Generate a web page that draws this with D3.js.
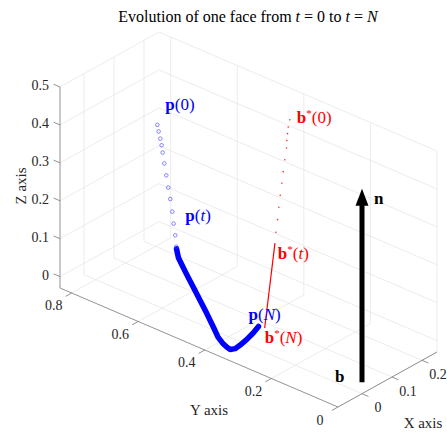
<!doctype html>
<html lang="en">
<head>
<meta charset="utf-8">
<title>face evolution</title>
<style>
  body { margin: 0; background: #fff; }
  svg { display: block; font-family: "Liberation Serif", "DejaVu Serif", serif; }
  .grid line { stroke: #e4e4e4; stroke-width: 0.7; }
  .axis line { stroke: #777; stroke-width: 0.8; }
  .tick text { fill: #262626; font-size: 14px; }
  .axis-label { fill: #262626; font-size: 15px; }
  .title { fill: #000; font-size: 16px; }
  .lab { font-size: 17px; }
</style>
</head>
<body>
<div class="chart"></div>
<script src="https://d3js.org/d3.v7.min.js"></script>
<script>
'use strict';

// axis limits and ticks
const xLim = [-0.08, 0.25];
const yLim = [0, 0.835];
const zLim = [-0.03, 0.5];
const xTicks = [0, 0.1, 0.2];
const yTicks = [0, 0.2, 0.4, 0.6, 0.8];
const zTicks = [0, 0.1, 0.2, 0.3, 0.4, 0.5];

// p(t), first steps (open circles), [x, y, z]
const pSteps = [
  [0.19, 0.786, 0.300], [0.19, 0.782, 0.284], [0.19, 0.777, 0.267],
  [0.19, 0.773, 0.251], [0.19, 0.770, 0.233], [0.19, 0.765, 0.206],
  [0.19, 0.759, 0.177], [0.19, 0.753, 0.147], [0.19, 0.747, 0.119],
  [0.19, 0.741, 0.088], [0.19, 0.737, 0.058], [0.19, 0.732, 0.029],
  [0.19, 0.729, 0.000]
];
// p(t), later steps (dense, reads as a thick line)
const pTail = [
  [0.183, 0.722, 0], [0.156, 0.692, 0], [0.112, 0.628, 0], [0.077, 0.576, 0],
  [0.042, 0.524, 0], [0.007, 0.472, 0], [-0.029, 0.420, 0], [-0.056, 0.382, 0],
  [-0.071, 0.353, 0], [-0.077, 0.337, 0], [-0.080, 0.324, 0], [-0.070, 0.318, 0],
  [-0.052, 0.320, 0], [-0.023, 0.326, 0], [0.009, 0.335, 0], [0.039, 0.346, 0]
];
// b*(t) dots
const bStarSteps = [
  [0.25, 0.442, 0.416], [0.25, 0.447, 0.395], [0.25, 0.449, 0.377],
  [0.25, 0.451, 0.358], [0.25, 0.452, 0.338], [0.25, 0.457, 0.305],
  [0.25, 0.462, 0.272], [0.25, 0.466, 0.240], [0.25, 0.471, 0.206],
  [0.25, 0.475, 0.173], [0.25, 0.479, 0.139], [0.25, 0.484, 0.104],
  [0.25, 0.487, 0.072]
];
const bStarEnd = [0.043, 0.331, 0];
const bPoint = [0, 0, 0];
const nVec = [0, 0, 0.51];

const width = 447, height = 432;

// 3-D box -> screen (orthographic view)
const origin = [338, 407];          // corner x=min, y=min, z=min
const ux = [99, -55], uy = [-278, -119], uz = [0, -201];

const x = d3.scaleLinear().domain(xLim).range([0, 1]);
const y = d3.scaleLinear().domain(yLim).range([0, 1]);
const z = d3.scaleLinear().domain(zLim).range([0, 1]);

function proj(p) {
  const a = x(p[0]), b = y(p[1]), c = z(p[2]);
  return [origin[0] + a * ux[0] + b * uy[0] + c * uz[0],
          origin[1] + a * ux[1] + b * uy[1] + c * uz[1]];
}

function unit(v) {
  const l = Math.hypot(v[0], v[1]);
  return [v[0] / l, v[1] / l];
}

const svg = d3.select('.chart').append('svg')
  .attr('width', width)
  .attr('height', height);

function seg(g, p1, p2) {
  const a = proj(p1), b = proj(p2);
  g.append('line')
    .attr('x1', a[0]).attr('y1', a[1])
    .attr('x2', b[0]).attr('y2', b[1]);
}

// grid on back walls and floor
const grid = svg.append('g').attr('class', 'grid');
xTicks.forEach(t => {
  seg(grid, [t, yLim[1], zLim[0]], [t, yLim[1], zLim[1]]);
  seg(grid, [t, yLim[0], zLim[0]], [t, yLim[1], zLim[0]]);
});
yTicks.forEach(t => {
  seg(grid, [xLim[1], t, zLim[0]], [xLim[1], t, zLim[1]]);
  seg(grid, [xLim[0], t, zLim[0]], [xLim[1], t, zLim[0]]);
});
zTicks.forEach(t => {
  seg(grid, [xLim[0], yLim[1], t], [xLim[1], yLim[1], t]);
  seg(grid, [xLim[1], yLim[0], t], [xLim[1], yLim[1], t]);
});

// axes
const axis = svg.append('g').attr('class', 'axis');
seg(axis, [xLim[0], yLim[1], zLim[0]], [xLim[0], yLim[1], zLim[1]]);
seg(axis, [xLim[0], yLim[0], zLim[0]], [xLim[0], yLim[1], zLim[0]]);
seg(axis, [xLim[0], yLim[0], zLim[0]], [xLim[1], yLim[0], zLim[0]]);

const tickLen = 7;
function ticks(values, toPoint, dir, labelOff, anchor, fmt) {
  const d = unit(dir);
  const g = axis.selectAll(null).data(values).enter().append('g').attr('class', 'tick');
  g.append('line')
    .attr('x1', v => proj(toPoint(v))[0])
    .attr('y1', v => proj(toPoint(v))[1])
    .attr('x2', v => proj(toPoint(v))[0] + d[0] * tickLen)
    .attr('y2', v => proj(toPoint(v))[1] + d[1] * tickLen);
  g.append('text')
    .attr('x', v => proj(toPoint(v))[0] + labelOff[0])
    .attr('y', v => proj(toPoint(v))[1] + labelOff[1])
    .attr('text-anchor', anchor)
    .attr('dominant-baseline', 'central')
    .text(fmt);
}
const fmt = d3.format('~g');
ticks(zTicks, v => [xLim[0], yLim[1], v], uy, [-11, -1.5], 'end', fmt);
ticks(yTicks, v => [xLim[0], v, zLim[0]], [-ux[0], -ux[1]], [-18, 13], 'middle', fmt);
ticks(xTicks, v => [v, yLim[0], zLim[0]], [-uy[0], -uy[1]], [16, 14], 'middle', fmt);

svg.append('text').attr('class', 'axis-label')
  .attr('transform', 'translate(21,186) rotate(-90)')
  .attr('text-anchor', 'middle').attr('dominant-baseline', 'central')
  .text('Z axis');
svg.append('text').attr('class', 'axis-label')
  .attr('x', 209).attr('y', 415).attr('text-anchor', 'middle')
  .text('Y axis');
svg.append('text').attr('class', 'axis-label')
  .attr('x', 423).attr('y', 428).attr('text-anchor', 'middle')
  .text('X axis');

// title
const title = svg.append('text').attr('class', 'title')
  .attr('x', 248).attr('y', 22).attr('text-anchor', 'middle');
title.append('tspan').text('Evolution of one face from ');
title.append('tspan').attr('font-style', 'italic').text('t');
title.append('tspan').text(' = 0 to ');
title.append('tspan').attr('font-style', 'italic').text('t');
title.append('tspan').text(' = ');
title.append('tspan').attr('font-style', 'italic').text('N');

const line = d3.line().x(d => proj(d)[0]).y(d => proj(d)[1]);

// p(t)
svg.append('path')
  .datum(pTail)
  .attr('d', line)
  .attr('fill', 'none')
  .attr('stroke', '#0000ff')
  .attr('stroke-width', 5.5)
  .attr('stroke-linecap', 'round')
  .attr('stroke-linejoin', 'round');
svg.selectAll('.pc').data(pSteps).enter().append('circle')
  .attr('class', 'pc')
  .attr('cx', d => proj(d)[0]).attr('cy', d => proj(d)[1])
  .attr('r', 1.8)
  .attr('fill', 'none')
  .attr('stroke', '#3b3bff')
  .attr('stroke-width', 0.6);

// b*(t)
svg.append('path')
  .datum([bStarSteps[bStarSteps.length - 1], bStarEnd])
  .attr('d', line)
  .attr('fill', 'none')
  .attr('stroke', '#ff0000')
  .attr('stroke-width', 1.2);
svg.selectAll('.bd').data(bStarSteps).enter().append('circle')
  .attr('class', 'bd')
  .attr('cx', d => proj(d)[0]).attr('cy', d => proj(d)[1])
  .attr('r', 0.8)
  .attr('fill', '#ff2a2a');

// normal arrow n at b
const base = proj(bPoint);
const tip = proj([bPoint[0] + nVec[0], bPoint[1] + nVec[1], bPoint[2] + nVec[2]]);
const headLen = 17, headHalf = 6.5;
svg.append('line')
  .attr('x1', base[0]).attr('y1', base[1])
  .attr('x2', tip[0]).attr('y2', tip[1] + headLen - 1)
  .attr('stroke', '#000').attr('stroke-width', 5);
svg.append('path')
  .attr('d', `M${tip[0]},${tip[1]} L${tip[0] + headHalf},${tip[1] + headLen} L${tip[0] - headHalf},${tip[1] + headLen} Z`)
  .attr('fill', '#000');

// text labels
function label(p, dx, dy, color, parts) {
  const s = proj(p);
  const t = svg.append('text').attr('class', 'lab')
    .attr('x', s[0] + dx).attr('y', s[1] + dy)
    .attr('fill', color);
  parts.forEach(q => {
    const sp = t.append('tspan').text(q.t);
    if (q.b) sp.attr('font-weight', 'bold');
    if (q.i) sp.attr('font-style', 'italic');
    if (q.sup) sp.attr('dy', -6).attr('font-size', 11);
    if (q.down) sp.attr('dy', 6);
  });
}
const last = a => a[a.length - 1];
label(pSteps[0], 8, -15, '#0000ff', [{t: 'p', b: 1}, {t: '(0)'}]);
label(pSteps[9], 13, 9, '#0000ff', [{t: 'p', b: 1}, {t: '('}, {t: 't', i: 1}, {t: ')'}]);
label(last(pTail), -10, -6, '#0000ff', [{t: 'p', b: 1}, {t: '('}, {t: 'N', i: 1}, {t: ')'}]);
label(bStarSteps[0], 7, 3, '#ff0000', [{t: 'b', b: 1}, {t: '*', sup: 1}, {t: '(0)', down: 1}]);
label(last(bStarSteps), 3, 15, '#ff0000', [{t: 'b', b: 1}, {t: '*', sup: 1}, {t: '(', down: 1}, {t: 't', i: 1}, {t: ')'}]);
label(bStarEnd, 0, 15, '#ff0000', [{t: 'b', b: 1}, {t: '*', sup: 1}, {t: '(', down: 1}, {t: 'N', i: 1}, {t: ')'}]);
label(nVec, 12, 15, '#000', [{t: 'n', b: 1}]);
label(bPoint, -27, 0, '#000', [{t: 'b', b: 1}]);
</script>
</body>
</html>
